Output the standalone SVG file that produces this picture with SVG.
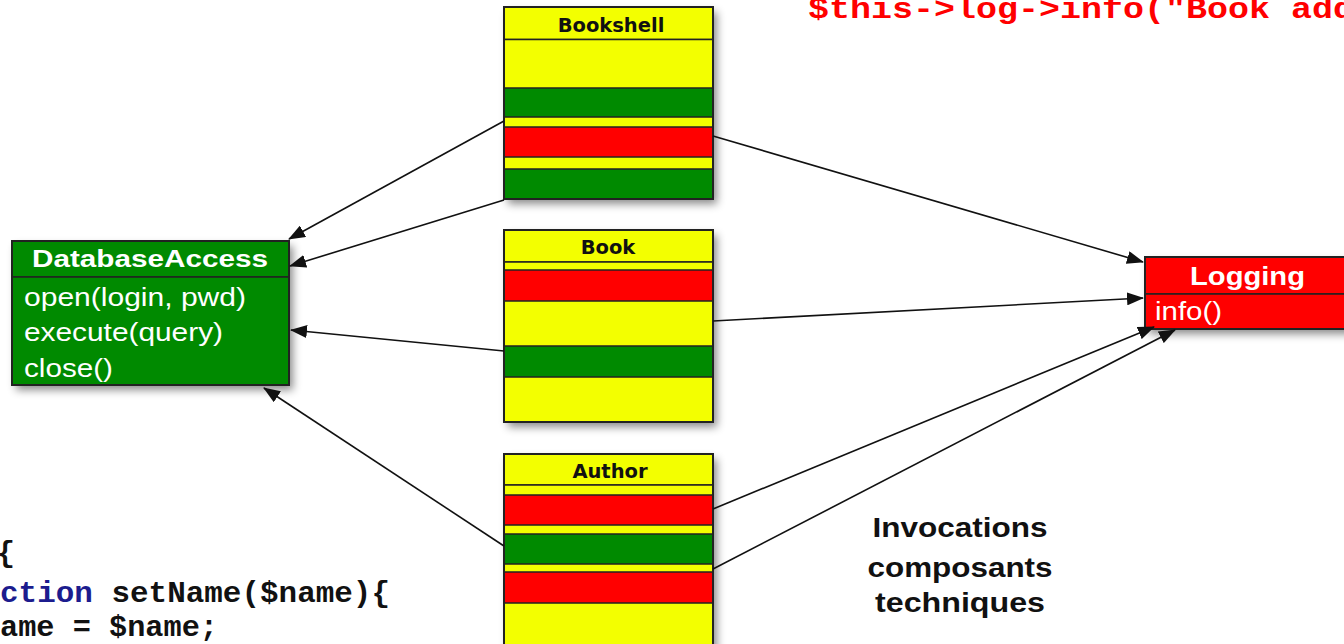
<svg xmlns="http://www.w3.org/2000/svg" width="1344" height="644" viewBox="0 0 1344 644">
<defs>
<filter id="shadow" x="-10%" y="-10%" width="130%" height="130%">
<feDropShadow dx="4" dy="5" stdDeviation="4" flood-color="#000" flood-opacity="0.45"/>
</filter>
<marker id="arrow" markerUnits="userSpaceOnUse" markerWidth="17" markerHeight="13" refX="16" refY="6.5" orient="auto">
<path d="M0,0 L17,6.5 L0,13 z" fill="#111"/>
</marker>
</defs>
<style>
.y{fill:#f3ff00;stroke:#222;stroke-width:1.5}
.g{fill:#008a00;stroke:#222;stroke-width:1.5}
.r{fill:#ff0000;stroke:#222;stroke-width:1.5}
.out{fill:none;stroke:#222;stroke-width:2}
.sh{fill:#fff;filter:url(#shadow)}
.ct{font-family:"DejaVu Sans",Verdana,sans-serif;font-weight:bold;font-size:19.5px;fill:#111;text-anchor:middle}
.wt{font-family:"Liberation Sans",Arial,sans-serif;fill:#fff}
.code{font-family:"Liberation Mono","Courier New",monospace;font-weight:bold;font-size:30px}
.inv{font-family:"Liberation Sans",Arial,sans-serif;font-weight:bold;font-size:28px;fill:#111;text-anchor:middle}
.conn line{stroke:#111;stroke-width:1.6;marker-end:url(#arrow)}
</style>
<rect width="1344" height="644" fill="#fff"/>

<text class="code" x="808" y="18" fill="#ff0000" textLength="546" lengthAdjust="spacingAndGlyphs">$this-&gt;log-&gt;info("Book add</text>

<g id="code-bottom">
<text class="code" x="-3" y="562" fill="#111">{</text>
<text class="code" x="0" y="602" fill="#111" textLength="390" lengthAdjust="spacingAndGlyphs"><tspan fill="#1c1c8e">ction</tspan> setName($name){</text>
<text class="code" x="0" y="636" fill="#111" textLength="218" lengthAdjust="spacingAndGlyphs">ame = $name;</text>
</g>

<g id="bookshell">
<rect class="sh" x="504" y="7" width="209" height="192"/>
<rect class="y" x="504" y="7" width="209" height="32.5"/>
<rect class="y" x="504" y="39.5" width="209" height="159.5"/>
<rect class="g" x="504" y="88" width="209" height="29"/>
<rect class="r" x="504" y="127" width="209" height="30"/>
<rect class="g" x="504" y="169" width="209" height="30"/>
<rect class="out" x="504" y="7" width="209" height="192"/>
<text class="ct" x="611" y="32">Bookshell</text>
</g>

<g id="book">
<rect class="sh" x="504" y="230" width="209" height="192"/>
<rect class="y" x="504" y="230" width="209" height="32"/>
<rect class="y" x="504" y="262" width="209" height="160"/>
<rect class="r" x="504" y="270" width="209" height="31"/>
<rect class="g" x="504" y="346" width="209" height="31"/>
<rect class="out" x="504" y="230" width="209" height="192"/>
<text class="ct" x="608" y="254">Book</text>
</g>

<g id="author">
<rect class="sh" x="504" y="454" width="209" height="220"/>
<rect class="y" x="504" y="454" width="209" height="31"/>
<rect class="y" x="504" y="485" width="209" height="189"/>
<rect class="r" x="504" y="495" width="209" height="30"/>
<rect class="g" x="504" y="534" width="209" height="30"/>
<rect class="r" x="504" y="572" width="209" height="31"/>
<rect class="out" x="504" y="454" width="209" height="220"/>
<text class="ct" x="610" y="478">Author</text>
</g>

<g id="database-access">
<rect class="sh" x="12" y="241" width="277" height="144"/>
<rect class="g" x="12" y="241" width="277" height="36"/>
<rect class="g" x="12" y="277" width="277" height="108"/>
<rect class="out" x="12" y="241" width="277" height="144"/>
<text class="wt" x="32" y="267" font-size="23" font-weight="bold" textLength="236" lengthAdjust="spacingAndGlyphs">DatabaseAccess</text>
<text class="wt" x="24" y="306" font-size="26" textLength="222" lengthAdjust="spacingAndGlyphs">open(login, pwd)</text>
<text class="wt" x="24" y="341" font-size="26" textLength="199" lengthAdjust="spacingAndGlyphs">execute(query)</text>
<text class="wt" x="24" y="377" font-size="26" textLength="89" lengthAdjust="spacingAndGlyphs">close()</text>
</g>

<g id="logging">
<rect class="sh" x="1145" y="257" width="220" height="72"/>
<rect class="r" x="1145" y="257" width="220" height="37"/>
<rect class="r" x="1145" y="294" width="220" height="35"/>
<rect class="out" x="1145" y="257" width="220" height="72"/>
<text class="wt" x="1190" y="285" font-size="26" font-weight="bold" textLength="115" lengthAdjust="spacingAndGlyphs">Logging</text>
<text class="wt" x="1155" y="320" font-size="26" textLength="67" lengthAdjust="spacingAndGlyphs">info()</text>
</g>

<g id="connectors" class="conn">
<line x1="504" y1="121" x2="289" y2="239"/>
<line x1="504" y1="200" x2="290" y2="266"/>
<line x1="504" y1="351" x2="291" y2="330"/>
<line x1="504" y1="546" x2="264" y2="388"/>
<line x1="713" y1="136" x2="1143" y2="262"/>
<line x1="713" y1="321" x2="1143" y2="298"/>
<line x1="713" y1="509" x2="1154" y2="327"/>
<line x1="713" y1="569" x2="1175" y2="330"/>
</g>

<g id="note">
<text class="inv" x="960" y="537" textLength="175" lengthAdjust="spacingAndGlyphs">Invocations</text>
<text class="inv" x="960" y="577" textLength="185" lengthAdjust="spacingAndGlyphs">composants</text>
<text class="inv" x="960" y="612" textLength="170" lengthAdjust="spacingAndGlyphs">techniques</text>
</g>
</svg>
